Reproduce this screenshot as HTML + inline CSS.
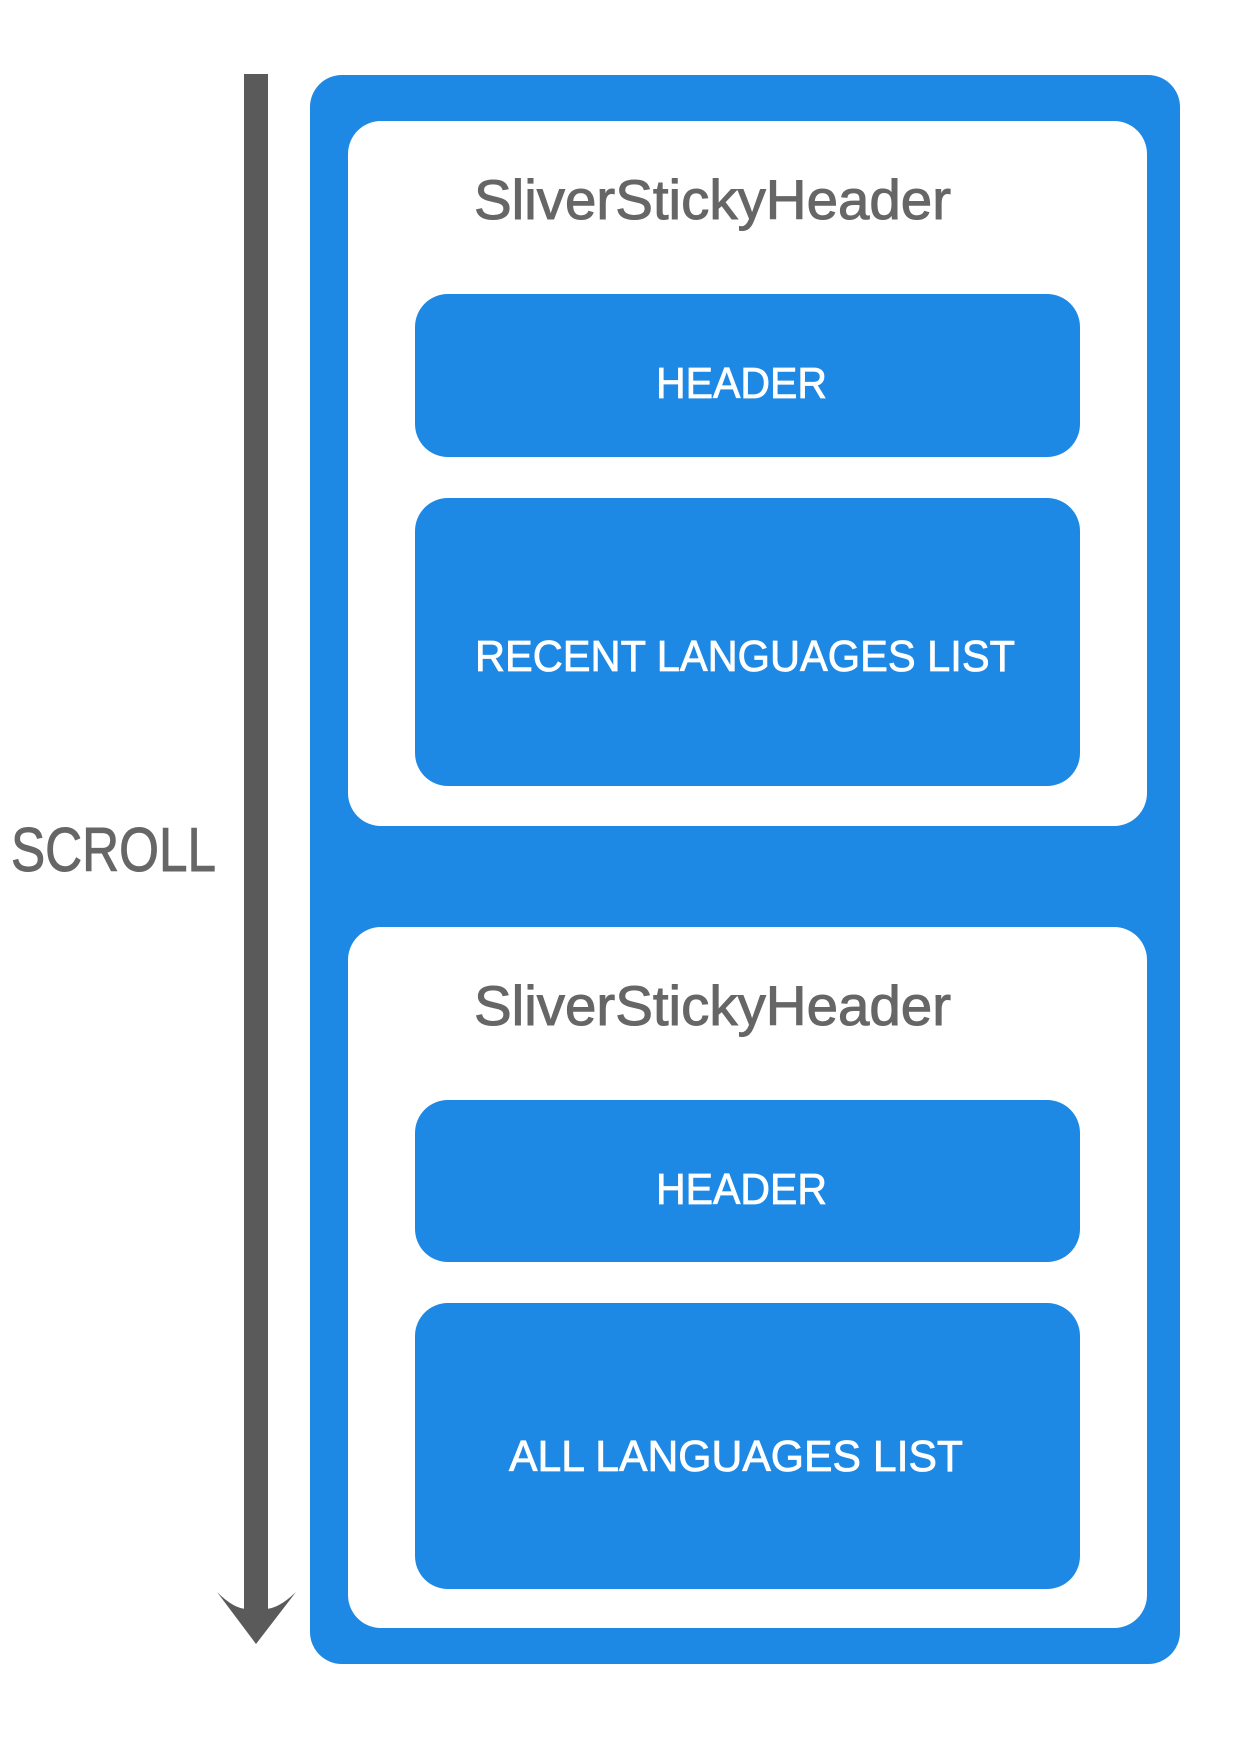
<!DOCTYPE html>
<html><head><meta charset="utf-8"><style>html,body{margin:0;padding:0;background:#fff}svg{display:block}</style></head>
<body>
<svg width="1242" height="1738" viewBox="0 0 1242 1738" xmlns="http://www.w3.org/2000/svg" font-family="Liberation Sans, sans-serif">
<rect x="244" y="74" width="24" height="1536" fill="#5a5a5a"/>
<path d="M217 1592 Q240 1615 256 1607 Q272 1615 296 1592 L256 1644 Z" fill="#5a5a5a"/>
<text x="11" y="871" font-size="62" fill="#666" stroke="#666" stroke-width="1" textLength="205" lengthAdjust="spacingAndGlyphs">SCROLL</text>
<rect x="310" y="75" width="870" height="1589" rx="32" fill="#1e88e5"/>
<rect x="348" y="121" width="799" height="705" rx="33" fill="#fff"/>
<rect x="348" y="927" width="799" height="701" rx="33" fill="#fff"/>
<text x="474" y="219" font-size="56" fill="#666" stroke="#666" stroke-width="1" textLength="477" lengthAdjust="spacingAndGlyphs">SliverStickyHeader</text>
<text x="474" y="1025" font-size="56" fill="#666" stroke="#666" stroke-width="1" textLength="477" lengthAdjust="spacingAndGlyphs">SliverStickyHeader</text>
<rect x="415" y="294" width="665" height="163" rx="33" fill="#1e88e5"/>
<rect x="415" y="498" width="665" height="288" rx="33" fill="#1e88e5"/>
<rect x="415" y="1100" width="665" height="162" rx="33" fill="#1e88e5"/>
<rect x="415" y="1303" width="665" height="286" rx="33" fill="#1e88e5"/>
<g fill="#fff" stroke="#fff" stroke-width="0.8" font-size="44">
<text x="656" y="398" textLength="171" lengthAdjust="spacingAndGlyphs">HEADER</text>
<text x="475" y="671" textLength="540" lengthAdjust="spacingAndGlyphs">RECENT LANGUAGES LIST</text>
<text x="656" y="1204" textLength="171" lengthAdjust="spacingAndGlyphs">HEADER</text>
<text x="509" y="1471" textLength="454" lengthAdjust="spacingAndGlyphs">ALL LANGUAGES LIST</text>
</g>
</svg>
</body></html>
